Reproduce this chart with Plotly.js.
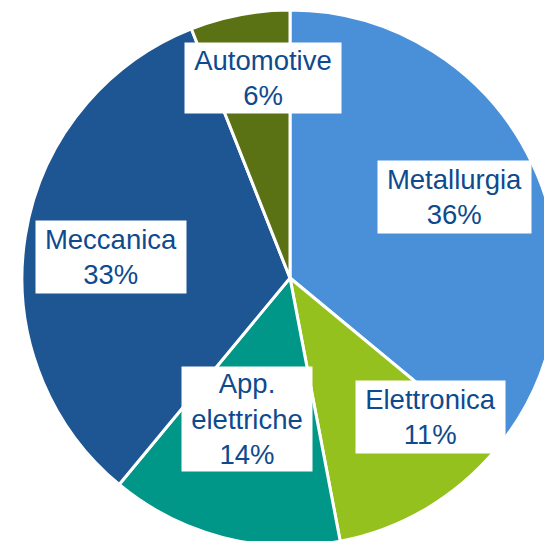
<!DOCTYPE html>
<html>
<head>
<meta charset="utf-8">
<script src="https://cdn.plot.ly/plotly-3.0.1.min.js"></script>
<style>
html, body { margin: 0; padding: 0; width: 544px; height: 541px; overflow: hidden; background: #fff; }
#chart { position: absolute; left: 0; top: 0; width: 580px; height: 560px; }
</style>
</head>
<body>
<div id="chart"></div>
<script>
// ---- data ----
const categories = ["Metallurgia", "Elettronica", "App.<br>elettriche", "Meccanica", "Automotive"];
const shares = [36, 11, 14, 33, 6];
const colors = ["#4A90D9", "#95C11F", "#009688", "#1E5593", "#5A7114"];

// ---- layout / style ----
const W = 580, H = 560;
const M = { l: 22, r: 22, t: 10, b: 14 };
const PW = W - M.l - M.r, PH = H - M.t - M.b;
// label box centres (page pixels) and box sizes
const labelCentre = [[454.5, 197], [430.5, 416.5], [247, 418.5], [111, 256.5], [263, 78]];
const labelBox = [[153, 72], [149, 72], [130, 104], [150, 72], [156, 70]];
const pad = 4;

const annotations = categories.map((c, i) => ({
  xref: "paper", yref: "paper",
  x: (labelCentre[i][0] - M.l) / PW,
  y: 1 - (labelCentre[i][1] - M.t) / PH,
  xanchor: "center", yanchor: "middle",
  text: c + "<br>" + shares[i] + "%",
  showarrow: false,
  bgcolor: "#ffffff",
  borderpad: pad,
  width: labelBox[i][0] - 2 * pad,
  height: labelBox[i][1] - 2 * pad,
  align: "center", valign: "middle",
  font: { family: "Liberation Sans, Arial, sans-serif", size: 27.5, color: "#0E4A8E" }
}));

const trace = {
  type: "pie",
  labels: categories,
  values: shares,
  sort: false,
  direction: "clockwise",
  rotation: 0,
  textinfo: "none",
  hoverinfo: "label+percent",
  marker: { colors: colors, line: { color: "#ffffff", width: 3 } },
  showlegend: false
};

Plotly.newPlot("chart", [trace], {
  width: W, height: H,
  margin: M,
  paper_bgcolor: "#ffffff",
  plot_bgcolor: "#ffffff",
  showlegend: false,
  annotations: annotations
}, { displayModeBar: false, staticPlot: true });
</script>
</body>
</html>
